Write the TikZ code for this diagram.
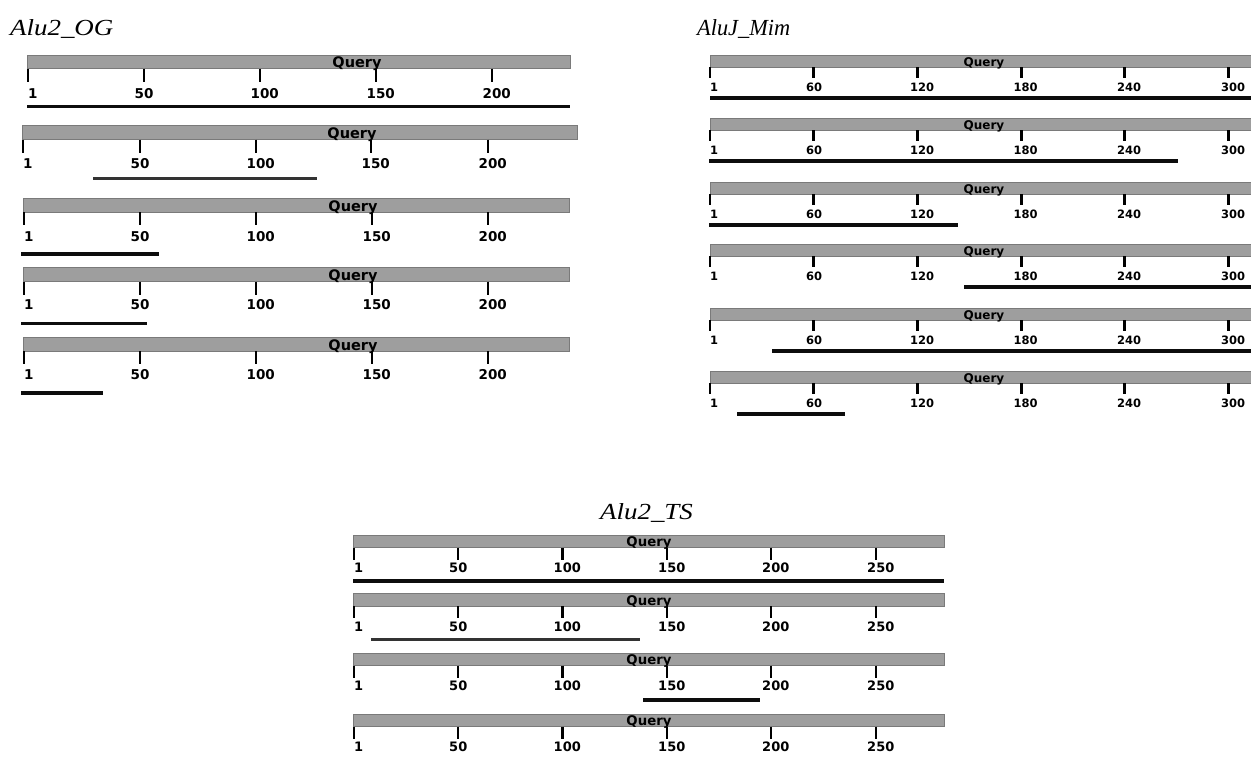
\documentclass[tikz,border=0pt]{standalone}
\usepackage{graphicx}
\usepackage{fontspec}
\newfontfamily\tickfont{DejaVu Sans}
\newfontfamily\ttlfont{Liberation Serif}
\tikzset{
  qbar/.style={fill=black!38, draw=black!52, line width=0.8pt},
  tickln/.style={line width=2.8pt, black},
  hit/.style={line width=3.2pt, black!95},
  hitgray/.style={line width=3pt, black!80},
  ttl/.style={anchor=base west, inner sep=0pt, font=\ttlfont\itshape\fontsize{23}{27}\selectfont},
}
% #1 name #2 x0 #3 x1 #4 ytop #5 ybot #6 ticklen #7 label y #8 ticks (x/label/leftx) #9 query x
\newcommand\qrow[9]{%
  \path[qbar] (#2,#4) rectangle (#3,#5);
  \foreach \tx/\tl/\lx in {#8}{%
    \draw[tickln] ({\tx},{#5}) -- ({\tx},{#5+#6});
    \node[lab] (#1-\tl) at ({\lx},{#7}) {\tl};
  }
  \node[qlab] (#1-q) at ({#9},{#5-1}) {Query};
}
\begin{document}
\begin{tikzpicture}[x=1pt,y=-1pt]
\clip (0,0) rectangle (1251,758);
\useasboundingbox (0,0) rectangle (1251,758);
\fill[white] (0,0) rectangle (1251,758);

% ---------- Alu2_OG ----------
\node[ttl] (tOG) at (10,35) {\scalebox{1.17}[1]{Alu2\_OG}};
\begin{scope}[lab/.style={anchor=west, inner sep=0pt, font=\tickfont\bfseries\fontsize{13.5}{14}\selectfont},
  qlab/.style={anchor=base, inner sep=0pt, font=\tickfont\bfseries\fontsize{14.5}{15}\selectfont}]
\qrow{og1}{27}{570}{55}{68.5}{13}{93.5}{28/1/28, 144/50/134.5, 260/100/250.5, 376/150/366.5, 492/200/482.5}{357}
\qrow{og2}{22.5}{577}{125}{139.5}{13}{164}{23/1/23, 140/50/130.5, 256/100/246.5, 371/150/361.5, 488/200/478.5}{352}
\qrow{og3}{23}{569}{198}{212}{13}{237}{24/1/24, 140/50/130.5, 256/100/246.5, 372/150/362.5, 488/200/478.5}{353}
\qrow{og4}{23}{569}{267}{281.5}{13}{305}{24/1/24, 140/50/130.5, 256/100/246.5, 372/150/362.5, 488/200/478.5}{353}
\qrow{og5}{23}{569}{337}{351}{13}{375}{24/1/24, 140/50/130.5, 256/100/246.5, 372/150/362.5, 488/200/478.5}{353}
\end{scope}
\coordinate (og1a) at (27,106.5);  \coordinate (og1b) at (570,106.5);
\coordinate (og2a) at (93,178);    \coordinate (og2b) at (317,178);
\coordinate (og3a) at (21,254);    \coordinate (og3b) at (159,254);
\coordinate (og4a) at (21,323.5);  \coordinate (og4b) at (147,323.5);
\coordinate (og5a) at (21,393);    \coordinate (og5b) at (103,393);
\draw[hit] (og1a) -- (og1b);
\draw[hitgray] (og2a) -- (og2b);
\draw[hit] (og3a) -- (og3b);
\draw[hit] (og4a) -- (og4b);
\draw[hit] (og5a) -- (og5b);

% ---------- AluJ_Mim ----------
\node[ttl] (tMim) at (697,35) {\scalebox{0.97}[1]{AluJ\_Mim}};
\begin{scope}[lab/.style={anchor=west, inner sep=0pt, font=\tickfont\bfseries\fontsize{11.5}{12}\selectfont},
  qlab/.style={anchor=base, inner sep=0pt, font=\tickfont\bfseries\fontsize{12}{13}\selectfont}]
\foreach \r/\yt in {1/55, 2/118, 3/182, 4/244, 5/308, 6/371}{
  \qrow{mim\r}{710}{1262}{\yt}{\yt+12}{11}{\yt+32}{710/1/710, 813.7/60/806, 917.4/120/910, 1021.1/180/1013.5, 1124.8/240/1117, 1228.5/300/1221}{984}
}
\end{scope}
\coordinate (mim1a) at (710,98);   \coordinate (mim1b) at (1262,98);
\coordinate (mim2a) at (709,161);  \coordinate (mim2b) at (1178,161);
\coordinate (mim3a) at (709,225);  \coordinate (mim3b) at (958,225);
\coordinate (mim4a) at (964,287);  \coordinate (mim4b) at (1262,287);
\coordinate (mim5a) at (772,351);  \coordinate (mim5b) at (1262,351);
\coordinate (mim6a) at (737,414);  \coordinate (mim6b) at (845,414);
\foreach \r in {1,...,6}{\draw[hit] (mim\r a) -- (mim\r b);}

% ---------- Alu2_TS ----------
\node[ttl] (tTS) at (600,519) {\scalebox{1.17}[1]{Alu2\_TS}};
\begin{scope}[lab/.style={anchor=west, inner sep=0pt, font=\tickfont\bfseries\fontsize{13}{14}\selectfont},
  qlab/.style={anchor=base, inner sep=0pt, font=\tickfont\bfseries\fontsize{13.3}{14}\selectfont}]
\foreach \r/\yt in {1/535, 2/593.5, 3/653, 4/714}{
  \qrow{ts\r}{353}{944}{\yt}{\yt+12.5}{12}{\yt+33}{354/1/354, 458/50/449, 562.5/100/553.5, 667/150/658, 771/200/762, 876/250/867}{649}
}
\end{scope}
\coordinate (ts1a) at (353,581);  \coordinate (ts1b) at (944,581);
\coordinate (ts2a) at (371,639);  \coordinate (ts2b) at (640,639);
\coordinate (ts3a) at (643,700);  \coordinate (ts3b) at (760,700);
\draw[hit] (ts1a) -- (ts1b);
\draw[hitgray] (ts2a) -- (ts2b);
\draw[hit] (ts3a) -- (ts3b);
\end{tikzpicture}
\end{document}
